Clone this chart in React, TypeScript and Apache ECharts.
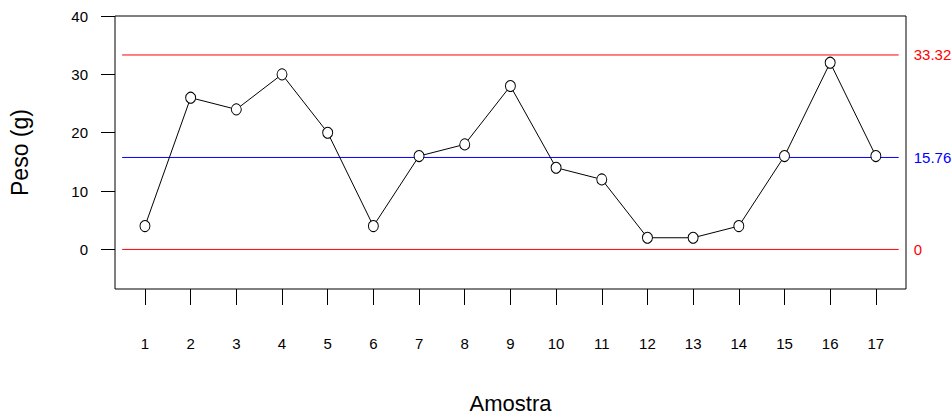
import React, { useEffect, useRef } from "react";
import * as echarts from "echarts";

const samples = [1, 2, 3, 4, 5, 6, 7, 8, 9, 10, 11, 12, 13, 14, 15, 16, 17];
const weights = [4, 26, 24, 30, 20, 4, 16, 18, 28, 14, 12, 2, 2, 4, 16, 32, 16];
const yTicks = [0, 10, 20, 30, 40];
const limitValues = [33.32, 15.76, 0];
const limitLabels = ["33.32", "15.76", "0"];
const limitColors = ["#ff0000", "#0000ff", "#ff0000"];
const limitSpan = [0.5, 17.5];

const FONT = "Liberation Sans, Arial, Helvetica, sans-serif";

export default function App() {
  const ref = useRef<HTMLDivElement>(null);

  useEffect(() => {
    if (!ref.current) return;
    const chart = echarts.init(ref.current, undefined, { renderer: "svg" });

    const limitSeries = limitValues.map((v, i) => ({
      type: "line",
      silent: true,
      symbol: "none",
      color: limitColors[i],
      z: 2,
      data: limitSpan.map((x) => [x, v]),
      lineStyle: { color: limitColors[i], width: 1, opacity: 1 },
      itemStyle: { color: limitColors[i] },
      emphasis: { disabled: true },
      endLabel: {
        show: true,
        formatter: () => limitLabels[i],
        color: limitColors[i],
        fontSize: 15,
        fontFamily: FONT,
        distance: 15,
        padding: [6, 0, 0, 0],
      },
    }));

    chart.setOption({
      animation: false,
      backgroundColor: "#ffffff",
      grid: {
        left: 114,
        right: 46,
        top: 16,
        bottom: 127,
        show: true,
        borderColor: "#000",
        borderWidth: 1,
        backgroundColor: "transparent",
      },
      xAxis: {
        type: "value",
        min: 0.344,
        max: 17.66,
        axisLine: { show: false, onZero: false },
        splitLine: { show: false },
        axisTick: {
          show: true,
          length: 16,
          customValues: samples,
          lineStyle: { color: "#000", width: 1 },
        },
        axisLabel: {
          customValues: samples,
          margin: 47,
          fontSize: 15,
          color: "#000",
          fontFamily: FONT,
        },
        name: "Amostra",
        nameLocation: "middle",
        nameGap: 103,
        nameTextStyle: { fontSize: 22, color: "#000", fontFamily: FONT },
      },
      yAxis: {
        type: "value",
        min: -6.78,
        max: 40,
        axisLine: { show: false, onZero: false },
        splitLine: { show: false },
        axisTick: {
          show: true,
          length: 14,
          customValues: yTicks,
          lineStyle: { color: "#000", width: 1 },
        },
        axisLabel: {
          customValues: yTicks,
          margin: 27,
          fontSize: 15,
          color: "#000",
          fontFamily: FONT,
          padding: [5, 0, 0, 0],
        },
        name: "Peso (g)",
        nameLocation: "middle",
        nameGap: 84,
        nameRotate: 90,
        nameTextStyle: { fontSize: 23, color: "#000", fontFamily: FONT },
      },
      series: [
        ...limitSeries,
        {
          type: "line",
          z: 5,
          color: "#000",
          data: weights.map((w, i) => [samples[i], w]),
          symbol: "circle",
          symbolSize: [10, 11],
          lineStyle: { color: "#000", width: 1 },
          itemStyle: { color: "#fff", borderColor: "#000", borderWidth: 1 },
          emphasis: { disabled: true },
        },
      ],
    });

    return () => chart.dispose();
  }, []);

  return (
    <div
      ref={ref}
      style={{
        position: "fixed",
        left: 0,
        top: 0,
        width: 952,
        height: 419,
        background: "#fff",
      }}
    />
  );
}
